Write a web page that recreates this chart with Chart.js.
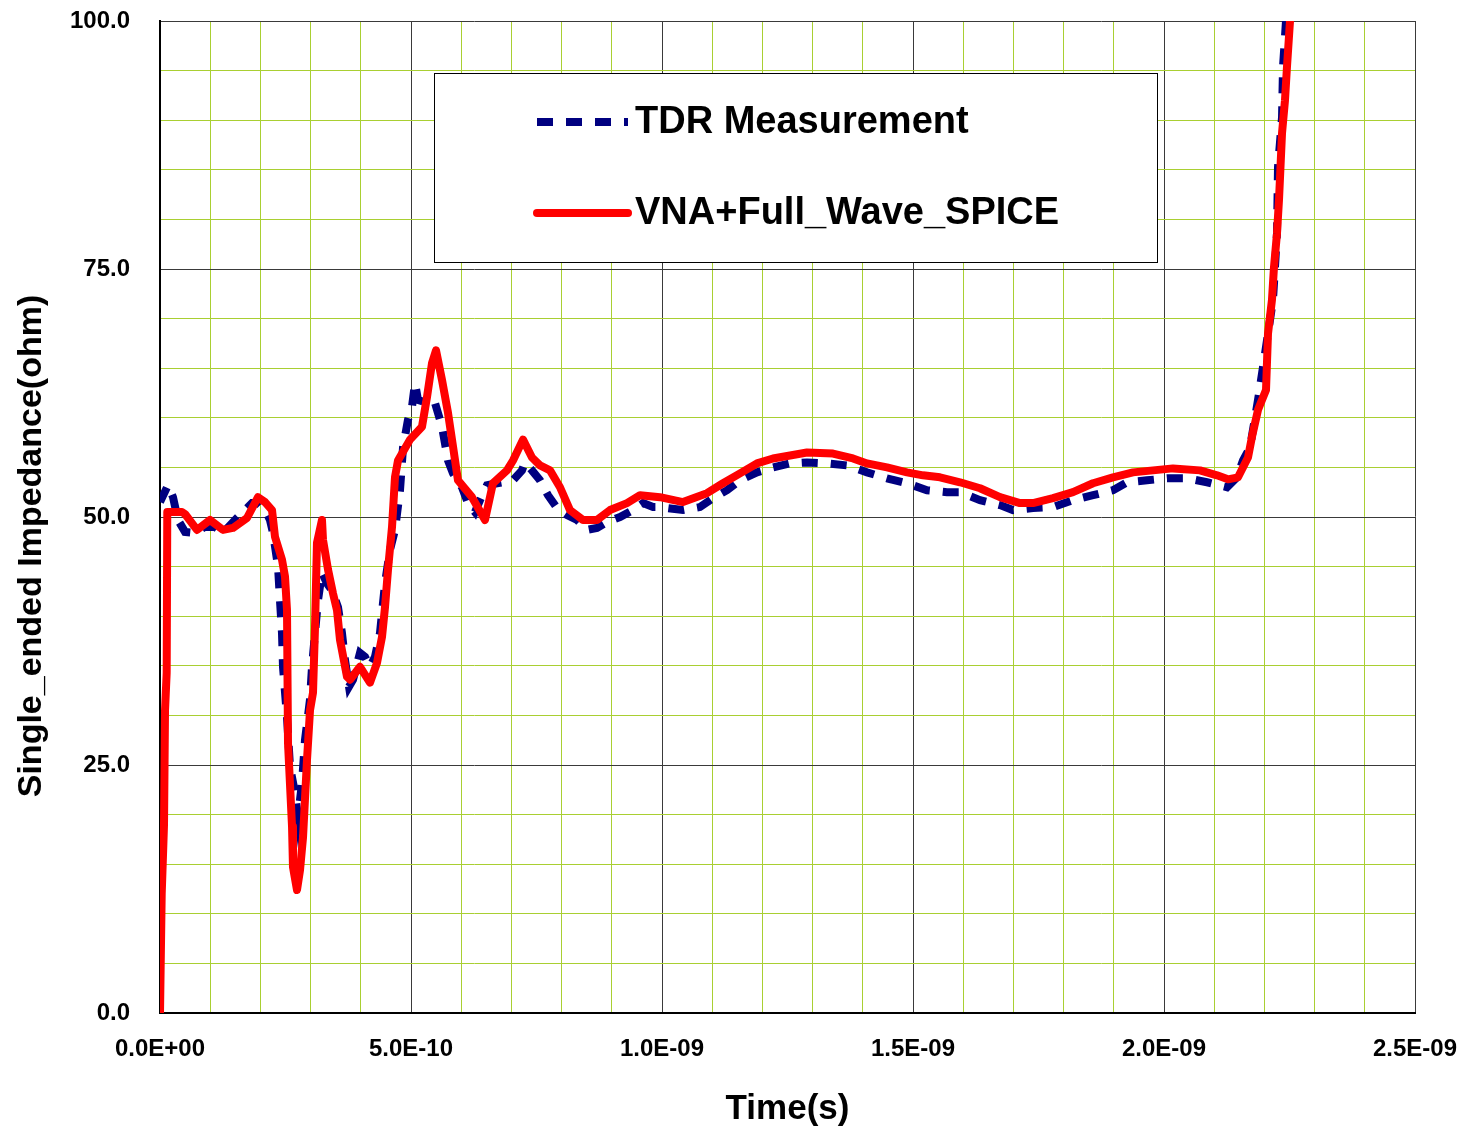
<!DOCTYPE html>
<html>
<head>
<meta charset="utf-8">
<title>Single-ended impedance</title>
<script src="https://cdn.jsdelivr.net/npm/chart.js@4.4.1/dist/chart.umd.min.js"></script>
<style>
	html, body { margin: 0; padding: 0; background: #fff; }
	#wrap { position: relative; width: 1468px; height: 1130px; }
</style>
</head>
<body>
<div id="wrap"><canvas id="zchart"></canvas></div>
<script>
/* time in ps, impedance in ohm */
const tdrTime = [0, 15.9, 25.9, 35.9, 49.8, 69.7, 89.6, 109.6, 125.5, 149.4, 169.3, 183.3, 195.2, 209.2, 219.1, 225.1,
	235.1, 239, 243, 245, 253, 259, 268.9, 274.9, 282.9, 288.8, 298.8, 302.8, 308.8, 314.7, 322.7, 332.7, 342.6,
	354.6, 362.5, 368.5, 376.5, 384.5, 398.4, 408.4, 418.3, 428.3, 438.2, 448.2, 458.2, 468.1, 478.1, 484.1, 494,
	502, 508, 513.9, 531.9, 547.8, 561.8, 573.7, 583.7, 601.6, 613.5, 627.5, 637.5, 651.4, 671.3, 703.2, 721.1,
	727.1, 741, 757, 772.9, 790.8, 810.8, 830.7, 850.6, 870.5, 890.4, 916.3, 942.2, 962.2, 982.1, 996, 1041.8,
	1075.7, 1101.6, 1129.5, 1155.4, 1189.2, 1221.1, 1255, 1288.8, 1328.7, 1368.5, 1408.4, 1448.2, 1488, 1527.9,
	1567.7, 1593.6, 1633.5, 1673.3, 1699.2, 1739, 1778.9, 1818.7, 1858.6, 1898.4, 1926.3, 1966.1, 2006, 2045.8,
	2085.7, 2125.5, 2145.4, 2157.4, 2171.3, 2187.3, 2197.2, 2207.2, 2217.1, 2225.1, 2227.1, 2235.1, 2237.1, 2243, 2245];
const tdrOhm = [51.5, 53.2, 52.0, 49.7, 48.5, 48.4, 49.0, 49.0, 48.4, 49.7, 50.7, 51.4, 51.4, 50.7, 49.7, 48.4,
	45.0, 41.6, 38.3, 34.9, 29.8, 24.8, 22.2, 19.8, 23.2, 27.5, 31.6, 34.9, 38.3, 41.6, 44.4, 43.3, 42.6,
	40.9, 38.3, 35.6, 32.9, 33.6, 36.3, 35.9, 34.9, 35.9, 38.3, 43.3, 46.7, 48.7, 52.7, 57.0, 59.8,
	61.1, 63.5, 61.8, 61.5, 61.5, 59.1, 55.7, 54.4, 53.0, 51.4, 50.5, 51.7, 53.2, 53.4, 53.7, 54.7,
	55.5, 54.7, 53.7, 52.2, 50.9, 50.2, 49.7, 48.7, 48.9, 49.5, 50.0, 50.7, 51.4, 51.0, 51.0, 50.7,
	51.0, 51.9, 52.7, 53.7, 54.5, 55.0, 55.4, 55.5, 55.4, 55.2, 54.5, 53.9, 53.4, 52.7,
	52.5, 52.5, 51.7, 51.2, 50.7, 50.9, 51.0, 51.7, 52.2, 52.7, 53.5, 53.7, 53.9, 53.9,
	53.5, 53.0, 54.0, 55.7, 57.0, 61.8, 65.1, 68.5, 71.9, 78.6, 85.3, 90.3, 95.4, 100, 104];

const vnaTime = [0, 3.4, 8, 10, 13.3, 14.5, 43.8, 49.8, 73.7, 99.6, 125.5, 145.4, 173.3, 195.2, 209.2, 223.1, 229.1,
	243, 249, 253, 255, 263, 264.9, 272.9, 278.9, 284.9, 292.8, 298.8, 304.8, 308.8, 312.7, 322.7, 324.7, 334.7,
	344.6, 352.6, 358.6, 372.5, 378.5, 398.4, 418.3, 432.3, 442.2, 448.2, 454.2, 462.2, 468.1, 474.1, 498, 521.9,
	531.9, 541.8, 549.8, 561.8, 573.7, 583.7, 593.6, 621.5, 647.4, 663.3, 691.2, 703.2, 723.1, 741, 757, 776.9,
	796.8, 816.7, 842.6, 870.5, 896.4, 930.3, 956.2, 996, 1041.8, 1089.6, 1121.5, 1155.4, 1189.2, 1221.1, 1255,
	1288.8, 1340.6, 1380.5, 1408.4, 1448.2, 1488, 1519.9, 1553.8, 1593.6, 1633.5, 1673.3, 1713.1, 1739, 1778.9,
	1818.7, 1858.6, 1898.4, 1938.2, 1978.1, 2017.9, 2071.7, 2105.6, 2127.5, 2147.4, 2167.3, 2175.3, 2187.3, 2203.2,
	2207.2, 2215.1, 2219.1, 2225.1, 2229.1, 2235.1, 2241, 2245, 2251, 2253];
const vnaOhm = [0, 12, 19, 30.5, 34.3, 50.5, 50.5, 50.3, 48.7, 49.7, 48.7, 48.9, 49.9, 52.0, 51.5, 50.7, 48.0,
	45.7, 44.0, 40.6, 27.2, 18.8, 14.7, 12.4, 14.4, 17.7, 25.5, 30.5, 32.3, 38.9, 47.4, 49.7, 47.7, 44.7,
	42.3, 40.6, 37.6, 33.9, 33.6, 34.9, 33.3, 35.3, 37.9, 40.9, 44.7, 49.0, 54.0, 55.7, 57.8, 59.1,
	62.1, 65.5, 66.8, 63.8, 60.5, 57.1, 53.7, 52.0, 49.7, 53.4, 54.7, 55.7, 57.8, 56.0, 55.2, 54.7,
	53.0, 50.7, 49.7, 49.7, 50.7, 51.4, 52.2, 52.0, 51.5, 52.4, 53.4, 54.4, 55.4, 55.9, 56.2,
	56.5, 56.4, 55.9, 55.4, 55.0, 54.5, 54.2, 54.0, 53.5, 52.9, 52.0, 51.4, 51.4, 51.9,
	52.5, 53.4, 54.0, 54.5, 54.7, 54.9, 54.7, 54.2, 53.8, 54.0, 56.0, 58.1, 60.8, 62.8,
	68.5, 71.9, 75.2, 78.6, 82.0, 88.7, 92.0, 95.4, 100, 104];

const xMajor = [0, 500, 1000, 1500, 2000, 2500];
const yMajor = [0, 25, 50, 75, 100];
const seriesNames = ['TDR Measurement', 'VNA+Full_Wave_SPICE'];
const yTitle = 'Single_ended Impedance(ohm)';

const FONT = '"Liberation Sans", Arial, sans-serif';
const BLUE = '#000080';
const RED = '#ff0000';
const BLUE_DASH = [16, 13];

function pts(xs, ys) {
	return xs.map((x, i) => ({ x: x, y: ys[i] }));
}

// 500 ps -> "5.0E-10"
function sciLabel(ps) {
	const s = (ps * 1e-12).toExponential(1).toUpperCase();
	const parts = s.split('E');
	let e = parseInt(parts[1], 10);
	const sign = e < 0 ? '-' : '+';
	e = Math.abs(e);
	return parts[0] + 'E' + sign + (e < 10 ? '0' + e : '' + e);
}

// keep tick labels from pushing the plot area inwards
function noLabelPadding(scale) {
	scale.paddingTop = 0;
	scale.paddingBottom = 0;
	scale.paddingLeft = 0;
	scale.paddingRight = 0;
}

// boxed legend inside the plot + rotated y title
const boxLegend = {
	id: 'boxLegend',
	afterDraw(chart) {
		const c = chart.ctx;
		c.save();
		c.fillStyle = '#fff';
		c.fillRect(434, 73, 724, 190);
		c.strokeStyle = '#000';
		c.lineWidth = 1;
		c.strokeRect(434.5, 73.5, 723, 189);

		const rows = [
			{ y: 122, color: BLUE, dash: BLUE_DASH, cap: 'butt' },
			{ y: 213, color: RED, dash: [], cap: 'round' },
		];
		rows.forEach((r, i) => {
			c.beginPath();
			c.setLineDash(r.dash);
			c.lineCap = r.cap;
			c.strokeStyle = r.color;
			c.lineWidth = 8;
			c.moveTo(537, r.y);
			c.lineTo(628, r.y);
			c.stroke();
			c.setLineDash([]);
			c.fillStyle = '#000';
			c.font = 'bold 38px ' + FONT;
			c.textBaseline = 'middle';
			c.textAlign = 'left';
			c.fillText(seriesNames[i], 635, r.y + 1);
		});

		c.translate(32, 546);
		c.rotate(-Math.PI / 2);
		c.font = 'bold 34px ' + FONT;
		c.textAlign = 'center';
		c.textBaseline = 'middle';
		c.fillText(yTitle, 0, 0);
		c.restore();
	},
};

const ctx = document.getElementById('zchart');
new Chart(ctx, {
	type: 'line',
	data: {
		datasets: [
			{
				label: seriesNames[0],
				data: pts(tdrTime, tdrOhm),
				borderColor: BLUE,
				borderWidth: 8,
				borderDash: BLUE_DASH,
				borderCapStyle: 'butt',
				pointRadius: 0,
				tension: 0,
				order: 1,
			},
			{
				label: seriesNames[1],
				data: pts(vnaTime, vnaOhm),
				borderColor: RED,
				borderWidth: 8,
				borderJoinStyle: 'round',
				borderCapStyle: 'round',
				pointRadius: 0,
				tension: 0,
				order: 0,
			},
		],
	},
	options: {
		responsive: true,
		maintainAspectRatio: false,
		animation: false,
		layout: { autoPadding: false, padding: { left: 0, right: 53, top: 21, bottom: 0 } },
		plugins: {
			legend: { display: false },
			tooltip: { enabled: false },
		},
		scales: {
			x: {
				type: 'linear',
				min: 0,
				max: 2500,
				afterFit(scale) {
					scale.height = 117;
					noLabelPadding(scale);
				},
				grid: {
					drawTicks: false,
					lineWidth: 1,
					color: (c) => (xMajor.includes(c.tick.value) ? '#3a3a3a' : '#a9cf32'),
				},
				border: { color: '#000', width: 2 },
				ticks: {
					stepSize: 100,
					autoSkip: false,
					maxRotation: 0,
					padding: 22,
					color: '#000',
					font: { family: FONT, size: 24, weight: 'bold' },
					callback: (v) => (xMajor.includes(v) ? sciLabel(v) : ''),
				},
				title: {
					display: true,
					text: 'Time(s)',
					color: '#000',
					font: { family: FONT, size: 35, weight: 'bold' },
					padding: { top: 0, bottom: 0 },
				},
			},
			y: {
				type: 'linear',
				min: 0,
				max: 100,
				afterFit(scale) {
					scale.width = 160;
					noLabelPadding(scale);
				},
				grid: {
					drawTicks: false,
					lineWidth: 1,
					color: (c) => (yMajor.includes(c.tick.value) ? '#3a3a3a' : '#a9cf32'),
				},
				border: { color: '#000', width: 2 },
				ticks: {
					stepSize: 5,
					autoSkip: false,
					padding: 30,
					color: '#000',
					font: { family: FONT, size: 24, weight: 'bold' },
					callback: (v) => (yMajor.includes(v) ? v.toFixed(1) : ''),
				},
			},
		},
	},
	plugins: [boxLegend],
});
</script>
</body>
</html>
